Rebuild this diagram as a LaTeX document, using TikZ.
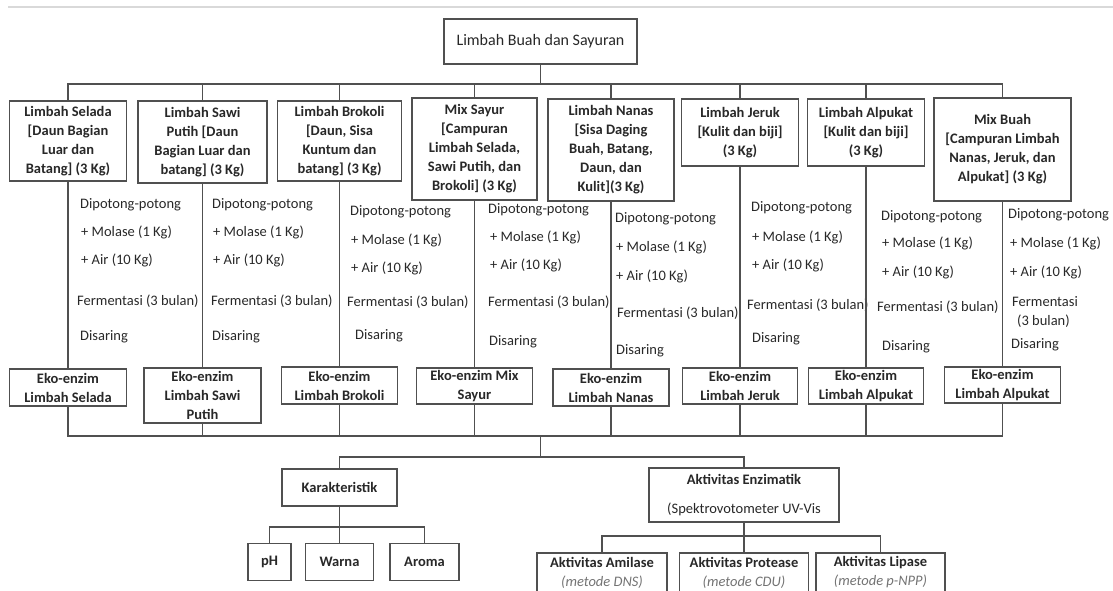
\documentclass[tikz,border=0pt]{standalone}
\usepackage{fontspec}
\setmainfont{Carlito}
\usepackage{tikz}
\usepackage{xcolor}

\newcommand{\diafont}{\fontsize{14.5}{19}\selectfont}
\definecolor{linegray}{RGB}{80,80,80}
\definecolor{textgray}{RGB}{40,40,40}

\tikzset{
  box/.style={draw=linegray, line width=1.1pt, fill=white, align=center, inner sep=0pt, text=textgray, font=\diafont\bfseries},
  topbox/.style={box, font=\fontsize{16}{19}\selectfont},
  proc/.style={anchor=west, inner sep=0pt, text=textgray, font=\diafont},
  link/.style={draw=linegray, line width=1.1pt}
}

\begin{document}
\begin{tikzpicture}[x=1pt, y=-1pt]

\useasboundingbox (0,0) rectangle (1113,590);
\draw [black!15, line width=1.5pt] (8,7) -- (1113,7);

\node [topbox, minimum width=193pt, minimum height=45pt] (limbah) at (540.5,41.5) {Limbah Buah dan Sayuran};

\node [box, minimum width=117pt, minimum height=80pt] (selada) at (68,141) {Limbah Selada\\ {[}Daun Bagian\\ Luar dan\\ Batang] (3 Kg)};
\node [box, minimum width=129pt, minimum height=82pt] (sawi) at (202.5,142) {Limbah Sawi\\ Putih [Daun\\ Bagian Luar dan\\ batang] (3 Kg)};
\node [box, minimum width=124pt, minimum height=80pt] (brokoli) at (339.5,141) {Limbah Brokoli\\ {[}Daun, Sisa\\ Kuntum dan\\ batang] (3 Kg)};
\node [box, minimum width=125pt, minimum height=102pt] (mixsayur) at (474.5,149) {Mix Sayur\\ {[}Campuran\\ Limbah Selada,\\ Sawi Putih, dan\\ Brokoli] (3 Kg)};
\node [box, minimum width=126pt, minimum height=102pt] (nanas) at (611,150) {Limbah Nanas\\ {[}Sisa Daging\\ Buah, Batang,\\ Daun, dan\\ Kulit](3 Kg)};
\node [box, minimum width=117pt, minimum height=67pt] (jeruk) at (740,132.5) {Limbah Jeruk\\ {[}Kulit dan biji]\\ (3 Kg)};
\node [box, minimum width=117pt, minimum height=67pt] (alpukat) at (866,132.5) {Limbah Alpukat\\ {[}Kulit dan biji]\\ (3 Kg)};
\node [box, minimum width=137pt, minimum height=103pt] (mixbuah) at (1002.5,149.5) {Mix Buah\\ {[}Campuran Limbah\\ Nanas, Jeruk, dan\\ Alpukat] (3 Kg)};

\node [box, minimum width=117pt, minimum height=37pt] (ekoselada) at (68,387.5) {Eko-enzim\\ Limbah Selada};
\node [box, minimum width=117pt, minimum height=55pt] (ekosawi) at (202.5,395.5) {Eko-enzim\\ Limbah Sawi\\ Putih};
\node [box, minimum width=116pt, minimum height=37pt] (ekobrokoli) at (339.5,385.5) {Eko-enzim\\ Limbah Brokoli};
\node [box, minimum width=116pt, minimum height=36pt] (ekomixsayur) at (474.5,386) {Eko-enzim Mix\\ Sayur};
\node [box, minimum width=116pt, minimum height=37pt] (ekonanas) at (611,387.5) {Eko-enzim\\ Limbah Nanas};
\node [box, minimum width=115pt, minimum height=36pt] (ekojeruk) at (740,386) {Eko-enzim\\ Limbah Jeruk};
\node [box, minimum width=115pt, minimum height=36pt] (ekoalpukat) at (866,386) {Eko-enzim\\ Limbah Alpukat};
\node [box, minimum width=116pt, minimum height=36pt] (ekomixbuah) at (1002.5,385) {Eko-enzim\\ Limbah Alpukat};

\node [proc] (dip1) at (80,205) {Dipotong-potong};
\node [proc] (mol1) at (81,232) {+ Molase (1 Kg)};
\node [proc] (air1) at (81,260) {+ Air (10 Kg)};
\node [proc] (fer1) at (77,301) {Fermentasi (3 bulan)};
\node [proc] (sar1) at (80,337) {Disaring};

\node [proc] (dip2) at (212,205) {Dipotong-potong};
\node [proc] (mol2) at (213,232) {+ Molase (1 Kg)};
\node [proc] (air2) at (213,260) {+ Air (10 Kg)};
\node [proc] (fer2) at (211,301) {Fermentasi (3 bulan)};
\node [proc] (sar2) at (212,337) {Disaring};

\node [proc] (dip3) at (350,212) {Dipotong-potong};
\node [proc] (mol3) at (351,240) {+ Molase (1 Kg)};
\node [proc] (air3) at (351,268) {+ Air (10 Kg)};
\node [proc] (fer3) at (347,302) {Fermentasi (3 bulan)};
\node [proc] (sar3) at (355,336) {Disaring};

\node [proc] (dip4) at (488,210) {Dipotong-potong};
\node [proc] (mol4) at (490,237) {+ Molase (1 Kg)};
\node [proc] (air4) at (490,265) {+ Air (10 Kg)};
\node [proc] (fer4) at (488,302) {Fermentasi (3 bulan)};
\node [proc] (sar4) at (489,342) {Disaring};

\node [proc] (dip5) at (615,219) {Dipotong-potong};
\node [proc] (mol5) at (616,247) {+ Molase (1 Kg)};
\node [proc] (air5) at (616,276) {+ Air (10 Kg)};
\node [proc] (fer5) at (617,313) {Fermentasi (3 bulan)};
\node [proc] (sar5) at (616,351) {Disaring};

\node [proc] (dip6) at (751,208) {Dipotong-potong};
\node [proc] (mol6) at (752,237) {+ Molase (1 Kg)};
\node [proc] (air6) at (752,265) {+ Air (10 Kg)};
\node [proc] (fer6) at (747,305) {Fermentasi (3 bulan)};
\node [proc] (sar6) at (752,339) {Disaring};

\node [proc] (dip7) at (881,217) {Dipotong-potong};
\node [proc] (mol7) at (882,243) {+ Molase (1 Kg)};
\node [proc] (air7) at (882,272) {+ Air (10 Kg)};
\node [proc] (fer7) at (877,307) {Fermentasi (3 bulan)};
\node [proc] (sar7) at (882,347) {Disaring};

\node [proc] (dip8) at (1008,215) {Dipotong-potong};
\node [proc] (mol8) at (1010,243) {+ Molase (1 Kg)};
\node [proc] (air8) at (1010,272) {+ Air (10 Kg)};
\node [proc, align=left] (fer8) at (1012,312.5) {Fermentasi\\ \hspace*{5pt}(3 bulan)};
\node [proc] (sar8) at (1011,345) {Disaring};

\node [box, minimum width=115pt, minimum height=37pt] (karakter) at (339.5,487.5) {Karakteristik};
\node [box, minimum width=190pt, minimum height=54pt] (enzim) at (744,495) {Aktivitas Enzimatik\\[10pt] {\normalfont (Spektrovotometer UV-Vis}};

\node [box, minimum width=43pt, minimum height=37pt] (ph) at (269.5,562) {pH};
\node [box, minimum width=68pt, minimum height=37pt] (warna) at (339.5,562) {Warna};
\node [box, minimum width=69pt, minimum height=37pt] (aroma) at (424.5,562) {Aroma};

\node [box, minimum width=130pt, minimum height=39pt] (amilase) at (602,572.5) {Aktivitas Amilase\\ {\normalfont\itshape\color{black!55}(metode DNS)}};
\node [box, minimum width=129pt, minimum height=39pt] (protease) at (744,572.5) {Aktivitas Protease\\ {\normalfont\itshape\color{black!55}(metode CDU)}};
\node [box, minimum width=129pt, minimum height=39pt] (lipase) at (880.5,572.5) {Aktivitas Lipase\\ {\normalfont\itshape\color{black!55}(metode p-NPP)}};

\coordinate (tbus) at (540.5,84);
\coordinate (bbus) at (540.5,436);
\coordinate (kbus) at (540.5,457);
\coordinate (kkbus) at (339.5,527);
\coordinate (ebus) at (744,536);

\draw [link] (limbah) -- (tbus);
\draw [link] (selada.north) -- (selada.north |- tbus) -- (mixbuah.north |- tbus) -- (mixbuah.north);
\draw [link] (sawi.north) -- (sawi.north |- tbus);
\draw [link] (brokoli.north) -- (brokoli.north |- tbus);
\draw [link] (mixsayur.north) -- (mixsayur.north |- tbus);
\draw [link] (nanas.north) -- (nanas.north |- tbus);
\draw [link] (jeruk.north) -- (jeruk.north |- tbus);
\draw [link] (alpukat.north) -- (alpukat.north |- tbus);

\draw [link] (selada) -- (ekoselada);
\draw [link] (sawi) -- (ekosawi);
\draw [link] (brokoli) -- (ekobrokoli);
\draw [link] (mixsayur) -- (ekomixsayur);
\draw [link] (nanas) -- (ekonanas);
\draw [link] (jeruk) -- (ekojeruk);
\draw [link] (alpukat) -- (ekoalpukat);
\draw [link] (mixbuah) -- (ekomixbuah);

\draw [link] (ekoselada.south) -- (ekoselada.south |- bbus) -- (ekomixbuah.south |- bbus) -- (ekomixbuah.south);
\draw [link] (ekosawi.south) -- (ekosawi.south |- bbus);
\draw [link] (ekobrokoli.south) -- (ekobrokoli.south |- bbus);
\draw [link] (ekomixsayur.south) -- (ekomixsayur.south |- bbus);
\draw [link] (ekonanas.south) -- (ekonanas.south |- bbus);
\draw [link] (ekojeruk.south) -- (ekojeruk.south |- bbus);
\draw [link] (ekoalpukat.south) -- (ekoalpukat.south |- bbus);

\draw [link] (bbus) -- (kbus);
\draw [link] (karakter.north) -- (karakter.north |- kbus) -- (enzim.north |- kbus) -- (enzim.north);

\draw [link] (karakter) -- (warna);
\draw [link] (ph.north) -- (ph.north |- kkbus) -- (aroma.north |- kkbus) -- (aroma.north);

\draw [link] (enzim) -- (protease);
\draw [link] (amilase.north) -- (amilase.north |- ebus) -- (lipase.north |- ebus) -- (lipase.north);

\end{tikzpicture}
\end{document}
